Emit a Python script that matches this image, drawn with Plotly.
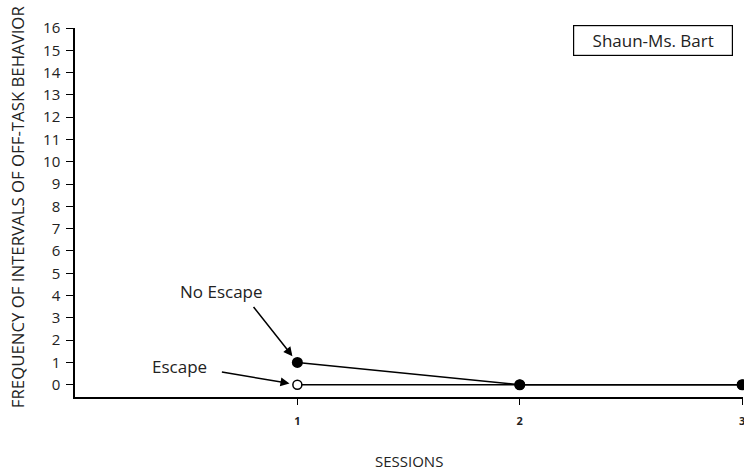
import plotly.graph_objects as go

sessions = [1, 2, 3]
no_escape = [1, 0, 0]
escape = [0, 0, 0]
y_ticks = list(range(0, 17))
x_ticks = [1, 2, 3]

FONT = "Open Sans"
W, H = 744, 472

fig = go.Figure()
fig.add_trace(go.Scatter(
    x=sessions, y=escape, mode="lines+markers", name="Escape",
    line=dict(color="black", width=1.5), cliponaxis=False,
    marker=dict(symbol="circle", size=9, color="white", line=dict(color="black", width=1.5)),
))
fig.add_trace(go.Scatter(
    x=sessions, y=no_escape, mode="lines+markers", name="No Escape",
    line=dict(color="black", width=1.5), cliponaxis=False,
    marker=dict(symbol="circle", size=11, color="black"),
))

fig.update_layout(
    width=W, height=H,
    margin=dict(l=75, r=1, t=28, b=75, autoexpand=False),
    plot_bgcolor="white", paper_bgcolor="white",
    showlegend=False,
    font=dict(family=FONT, color="#222"),
    xaxis=dict(
        range=[0, 3.004], tickvals=x_ticks, ticktext=[f"<b>{v}</b>" for v in x_ticks],
        showgrid=False, zeroline=False, showline=True, linecolor="black", linewidth=1.5,
        ticks="outside", ticklen=6, tickcolor="black", tickfont=dict(size=11, family=FONT),
        ticklabelstandoff=7, automargin=False, ticklabeloverflow="allow",
    ),
    yaxis=dict(
        range=[-0.55, 16], tickvals=y_ticks,
        showgrid=False, zeroline=False, showline=True, linecolor="black", linewidth=1.5,
        ticks="outside", ticklen=7, tickcolor="black", tickfont=dict(size=15, family=FONT),
        ticklabelstandoff=3, automargin=False,
    ),
    annotations=[
        dict(text="FREQUENCY OF INTERVALS OF OFF-TASK BEHAVIOR", textangle=-90,
             xref="paper", yref="paper", x=-0.085, y=0.515, xanchor="center", yanchor="middle",
             showarrow=False, font=dict(size=16.8, family=FONT)),
        dict(text="SESSIONS", xref="paper", yref="paper", x=0.5, y=-0.173,
             xanchor="center", yanchor="middle", showarrow=False,
             font=dict(size=15, family=FONT)),
        dict(text="Shaun-Ms. Bart", xref="paper", yref="paper", x=0.866, y=0.965,
             xanchor="center", yanchor="middle", showarrow=False,
             font=dict(size=17, family=FONT), bordercolor="black", borderwidth=1.2,
             borderpad=3, width=152, bgcolor="white"),
        dict(text="No Escape", x=0.66, y=4.2, xref="x", yref="y", xanchor="center",
             yanchor="middle", showarrow=False, font=dict(size=17, family=FONT)),
        dict(text="Escape", x=0.47, y=0.84, xref="x", yref="y", xanchor="center",
             yanchor="middle", showarrow=False, font=dict(size=17, family=FONT)),
        dict(text="", x=sessions[0], y=no_escape[0], xref="x", yref="y",
             showarrow=True, ax=-45, ay=-57, arrowhead=2, arrowsize=1.2, arrowwidth=1.5,
             arrowcolor="black", standoff=8),
        dict(text="", x=sessions[0], y=escape[0], xref="x", yref="y",
             showarrow=True, ax=-77, ay=-13, arrowhead=2, arrowsize=1.2, arrowwidth=1.5,
             arrowcolor="black", standoff=8),
    ],
)

fig.write_html(
    "out.html",
    config={"displayModeBar": False},
    post_script="document.body.style.margin='0';document.body.style.overflow='hidden';",
)
